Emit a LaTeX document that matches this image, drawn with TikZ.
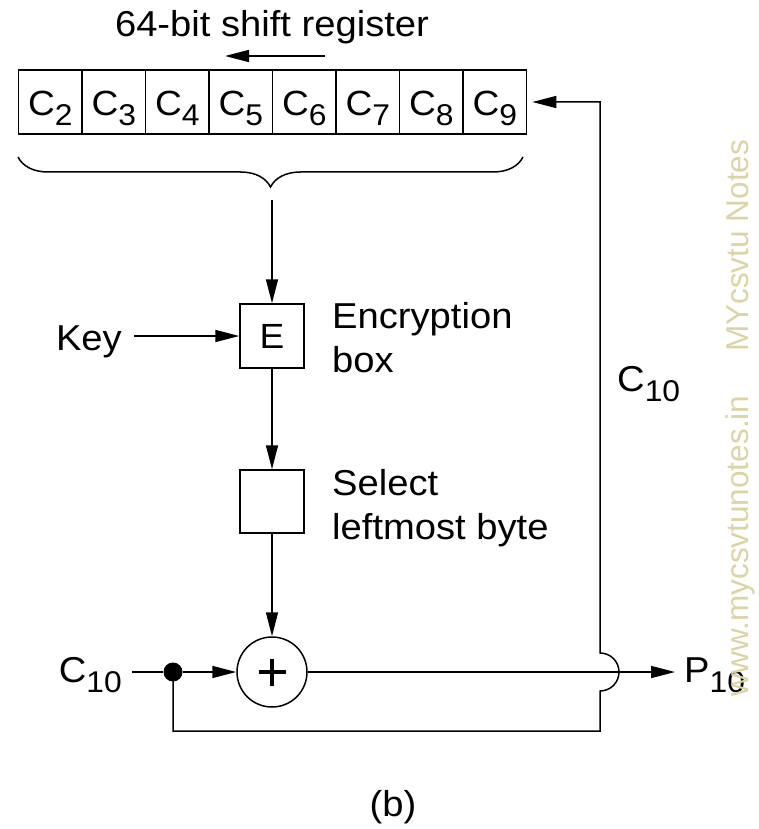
\documentclass[tikz,border=0pt]{standalone}
\usepackage{fontspec}
\setmainfont{Liberation Sans}[FakeStretch=1.06]
\newfontfamily\wmfont{Liberation Sans}
\usetikzlibrary{arrows.meta,decorations.pathreplacing}
\definecolor{wmcol}{RGB}{220,212,165}
\newcommand\mysub[1]{\raisebox{-10pt}{\fontsize{30}{30}\selectfont #1}}
\begin{document}
\begin{tikzpicture}[x=1pt,y=-1pt,
  lbl/.style={inner sep=0pt, font=\fontsize{36}{42}\selectfont},
  cell/.style={draw, line width=1.5pt, minimum width=63.5pt, minimum height=64pt,
    inner sep=0pt, text height=37pt, text depth=10pt, font=\fontsize{35}{40}\selectfont},
  blk/.style={draw, line width=1.5pt, minimum width=64pt, inner sep=0pt,
    font=\fontsize{35}{40}\selectfont},
  wire/.style={line width=1.5pt},
  arr/.style={wire, -{Triangle[length=24pt,width=12pt]}},
]
\useasboundingbox (0,0) rectangle (758,829);
\fill[white] (0,0) rectangle (758,829);

% title and shift arrow
\node[lbl, anchor=base] (title) at (272,37) {64-bit shift register};
\coordinate (sh1) at (325,56);
\coordinate (sh2) at (225,56);
\draw[arr] (sh1) -- (sh2);

% register cells
\foreach \i in {2,...,9} {
  \node[cell] (c\i) at ({18.6+63.5*(\i-1.5)},102) {C\mysub{\i}};
}

% brace
\coordinate (br1) at (523,157);
\coordinate (br2) at (18,157);
\draw[wire, decorate, decoration={brace, amplitude=30pt}] (br1) -- (br2);
\coordinate (brin) at (272,200);

% blocks
\node[blk, minimum height=64pt] (E) at (272,336) {E};
\node[blk, minimum height=63pt] (S) at (272,501.5) {};
\node[draw, circle, line width=1.5pt, minimum size=70pt, inner sep=0pt] (X) at (272,672) {};
\draw[line width=4pt] ([xshift=-13.5pt]X.center) -- ([xshift=13.5pt]X.center);
\draw[line width=4pt] ([yshift=-13.5pt]X.center) -- ([yshift=13.5pt]X.center);

% labels
\node[lbl, anchor=base east, inner xsep=12pt] (key) at (134,350) {Key};
\node[lbl, anchor=base west] (enc1) at (332,328) {Encryption};
\node[lbl, anchor=base west] (enc2) at (332,372) {box};
\node[lbl, anchor=base west] (sel1) at (332,495) {Select};
\node[lbl, anchor=base west] (sel2) at (332,539) {leftmost byte};
\node[lbl, anchor=base east, inner xsep=10pt] (cin) at (132,682) {C\mysub{10}};
\node[lbl, anchor=base west, inner xsep=9pt] (p10) at (675,682) {P\mysub{10}};
\node[lbl, anchor=base west] (c10r) at (617,391) {C\mysub{10}};
\node[lbl, anchor=base] (cap) at (393,816) {(b)};

% connectors
\draw[arr] (brin) -- (E);
\draw[arr] (key.east |- E.west) -- (E.west);
\draw[arr] (E) -- (S);
\draw[arr] (S) -- (X);
\node[circle, fill=black, minimum size=19pt, inner sep=0pt] (d) at (173,672) {};
\draw[wire] (cin.east |- d) -- (d);
\draw[arr] (d) -- (X);
\draw[arr] (X.east) -- (X.east -| p10.west);
\coordinate (fb1) at (600,731);
\coordinate (fbj) at (600,691);
\coordinate (fbtop) at (600,102);
\draw[arr, shorten >=5pt] (d.center) |- (fb1) -- (fbj)
  arc[start angle=-90, end angle=90, radius=19pt] -- (fbtop) -- (c9.east);

% watermark
\node[rotate=90, anchor=base west, inner sep=0pt, text=wmcol,
  font=\wmfont\fontsize{31.5}{32}\selectfont] (wm) at (748,697)
  {www.mycsvtunotes.in\hspace{44pt}MYcsvtu Notes};
\end{tikzpicture}
\end{document}
